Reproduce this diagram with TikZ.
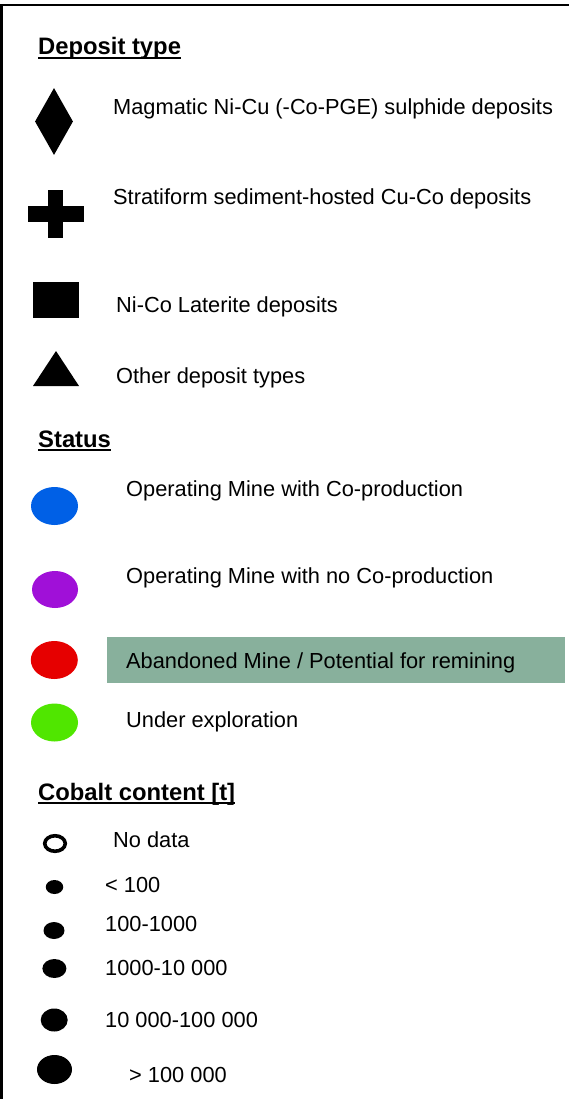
\documentclass[tikz,border=0pt]{standalone}
\usepackage{fontspec}
\setmainfont{Liberation Sans}
\usepackage{tikz}
\usetikzlibrary{shapes.geometric, positioning}
\usepackage{xcolor}

\definecolor{stblue}{HTML}{0060E6}
\definecolor{stpurple}{HTML}{A010D8}
\definecolor{stred}{HTML}{E60000}
\definecolor{stgreen}{HTML}{50E600}
\definecolor{hlsage}{HTML}{88B09C}

\begin{document}
\begin{tikzpicture}[
  x=1pt, y=-1pt,
  lbl/.style={anchor=base west, inner sep=0pt, font=\fontsize{21.8}{26}\selectfont},
  hd/.style={anchor=base west, inner sep=0pt, font=\fontsize{23.8}{28}\selectfont\bfseries},
  uline/.style={line width=1.9pt},
  sym/.style={fill=black, draw=none, inner sep=0pt},
  stat/.style={ellipse, draw=none, inner sep=0pt, minimum width=47pt, minimum height=38pt},
  dot/.style={ellipse, fill=black, draw=none, inner sep=0pt},
  hlbox/.style={fill=hlsage, draw=none, inner sep=0pt, minimum width=458pt,
                minimum height=46pt, anchor=west}
]
\useasboundingbox (0,0) rectangle (569,1099);

% frame, open to the right and at the bottom
\draw[line width=2.6pt] (569,5) -- (1.3,5) -- (1.3,1099);

% ================================================= deposit type
\node[hd] (hdep) at (38,55) {Deposit type};
\draw[uline] ([yshift=-3pt]hdep.base west) -- ([yshift=-3pt]hdep.base east);

\node[sym, diamond, minimum width=38pt, minimum height=67pt, aspect=0.57] (magm) at (54,121.5) {};
\node[lbl] (tmagm) at (113,115) {Magmatic Ni-Cu (-Co-PGE) sulphide deposits};

\node[sym, rectangle, minimum width=56pt, minimum height=16pt] (strH) at (56,214) {};
\node[sym, rectangle, minimum width=15pt, minimum height=48pt] (strV) at (55.5,214) {};
\node[lbl] (tstr) at (113,205) {Stratiform sediment-hosted Cu-Co deposits};

\node[sym, rectangle, minimum width=46pt, minimum height=36pt] (lat) at (56,300) {};
\node[lbl] (tlat) at (116,312) {Ni-Co Laterite deposits};

\coordinate (oth) at (56,368.5);
\fill (56,351) -- (79,386) -- (33,386) -- cycle;
\node[lbl] (toth) at (116,383) {Other deposit types};

% ================================================= status
\node[hd] (hstat) at (38,447) {Status};
\draw[uline] ([yshift=-3pt]hstat.base west) -- ([yshift=-3pt]hstat.base east);

\node[stat, fill=stblue] (opco) at (54.5,506) {};
\node[lbl] (topco) at (126,496) {Operating Mine with Co-production};

\node[stat, fill=stpurple, minimum width=46pt, minimum height=37pt] (opno) at (55,589.5) {};
\node[lbl] (topno) at (126,583) {Operating Mine with no Co-production};

\node[stat, fill=stred] (aband) at (54.3,660) {};
\node[hlbox] (hl) at (107,660) {};
\node[lbl] (taband) at (126,668) {Abandoned Mine / Potential for remining};

\node[stat, fill=stgreen] (expl) at (54.5,722.5) {};
\node[lbl] (texpl) at (126,727) {Under exploration};

% ================================================= cobalt content
\node[hd] (hco) at (38,800) {Cobalt content [t]};
\draw[uline] ([yshift=-3pt]hco.base west) -- ([yshift=-3pt]hco.base east);

\node[ellipse, draw=black, line width=3.6pt, fill=white, inner sep=0pt,
      minimum width=20.5pt, minimum height=15.5pt] (nod) at (55,843.5) {};
\node[lbl] (tnod) at (113,847) {No data};

\node[dot, minimum width=17.5pt, minimum height=14pt] (c1) at (54.5,887) {};
\node[lbl] (tc1) at (105,892) {< 100};

\node[dot, minimum width=21pt, minimum height=17pt] (c2) at (54,930.5) {};
\node[lbl] (tc2) at (105,931) {100-1000};

\node[dot, minimum width=24pt, minimum height=19pt] (c3) at (54.4,968.5) {};
\node[lbl] (tc3) at (105,975) {1000-10 000};

\node[dot, minimum width=27pt, minimum height=23pt] (c4) at (54.2,1020) {};
\node[lbl] (tc4) at (105,1027) {10 000-100 000};

\node[dot, minimum width=35pt, minimum height=29pt] (c5) at (54.5,1069.5) {};
\node[lbl] (tc5) at (129,1082) {> 100 000};

\end{tikzpicture}
\end{document}
